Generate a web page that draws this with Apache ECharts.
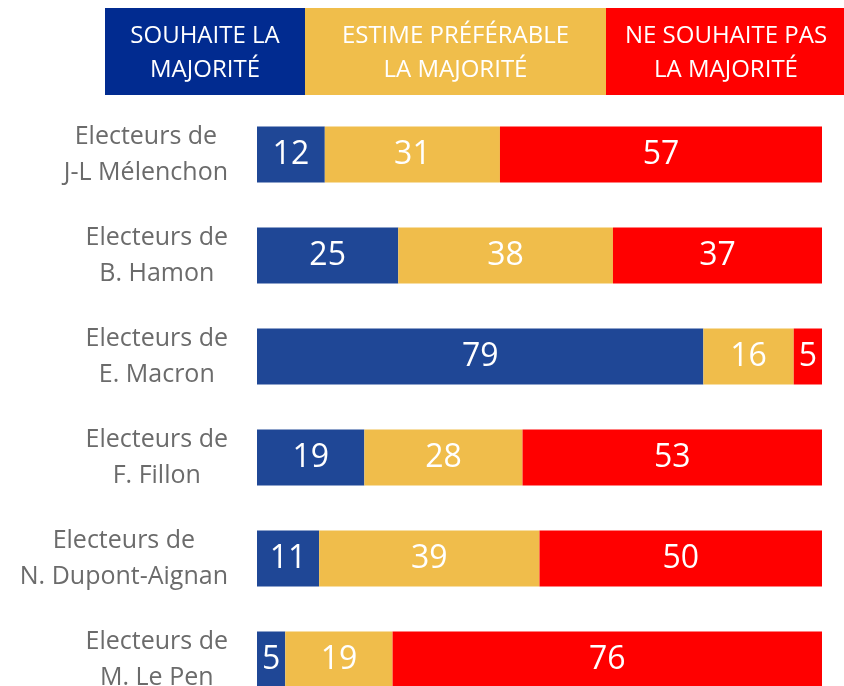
<!DOCTYPE html>
<html>
<head>
<meta charset="utf-8">
<script src="https://cdn.jsdelivr.net/npm/echarts@6/dist/echarts.min.js"></script>
<style>
  html, body { margin: 0; padding: 0; background: #fff; }
  #main { width: 844px; height: 686px; }
</style>
</head>
<body>
<div id="main"></div>
<script>
// données
var categories = [
  'Electeurs de\nJ-L Mélenchon',
  'Electeurs de\nB. Hamon',
  'Electeurs de\nE. Macron',
  'Electeurs de\nF. Fillon',
  'Electeurs de\nN. Dupont-Aignan',
  'Electeurs de\nM. Le Pen'
];
var seriesNames = ['SOUHAITE LA\nMAJORITÉ', 'ESTIME PRÉFÉRABLE\nLA MAJORITÉ', 'NE SOUHAITE PAS\nLA MAJORITÉ'];
var souhaite = [12, 25, 79, 19, 11, 5];
var estime = [31, 38, 16, 28, 39, 19];
var neSouhaite = [57, 37, 5, 53, 50, 76];

var barColors = ['#1F4796', '#F0BD4B', '#FF0000'];
var headColors = ['#012B90', '#F0BE4B', '#FF0000'];
var font = '"Open Sans", sans-serif';

function serie(name, data, color) {
  return {
    name: name.replace('\n', ' '),
    type: 'bar',
    stack: 'total',
    barWidth: 56,
    data: data,
    itemStyle: { color: color },
    label: {
      show: true,
      color: '#fff',
      fontSize: 32,
      fontFamily: font
    }
  };
}

// en-tête (légende en trois blocs)
var heads = [[105, 200], [305, 301], [606, 240]];
var header = [];
for (var i = 0; i < 3; i++) {
  header.push({
    type: 'rect',
    shape: { x: heads[i][0], y: 8, width: heads[i][1], height: 87 },
    style: { fill: headColors[i] }
  });
  header.push({
    type: 'text',
    x: heads[i][0] + heads[i][1] / 2,
    y: 53,
    style: {
      text: seriesNames[i],
      fill: '#fff',
      font: '24px ' + font,
      align: 'center',
      verticalAlign: 'middle',
      lineHeight: 34
    }
  });
}

var chart = echarts.init(document.getElementById('main'));
chart.setOption({
  animation: false,
  graphic: header,
  grid: { left: 257, right: 22, top: 104, height: 606, outerBoundsMode: 'none' },
  xAxis: {
    type: 'value',
    min: 0,
    max: 100,
    show: false
  },
  yAxis: {
    type: 'category',
    inverse: true,
    data: categories,
    axisLine: { show: false },
    axisTick: { show: false },
    axisLabel: {
      margin: 29,
      align: 'right',
      formatter: function (v) {
        return v.split('\n').map(function (s) { return '{c|' + s + '}'; }).join('\n');
      },
      rich: {
        c: {
          align: 'center',
          color: '#6B6B6B',
          fontSize: 25,
          fontFamily: font,
          lineHeight: 36
        }
      }
    }
  },
  series: [
    serie(seriesNames[0], souhaite, barColors[0]),
    serie(seriesNames[1], estime, barColors[1]),
    serie(seriesNames[2], neSouhaite, barColors[2])
  ]
});
</script>
</body>
</html>
